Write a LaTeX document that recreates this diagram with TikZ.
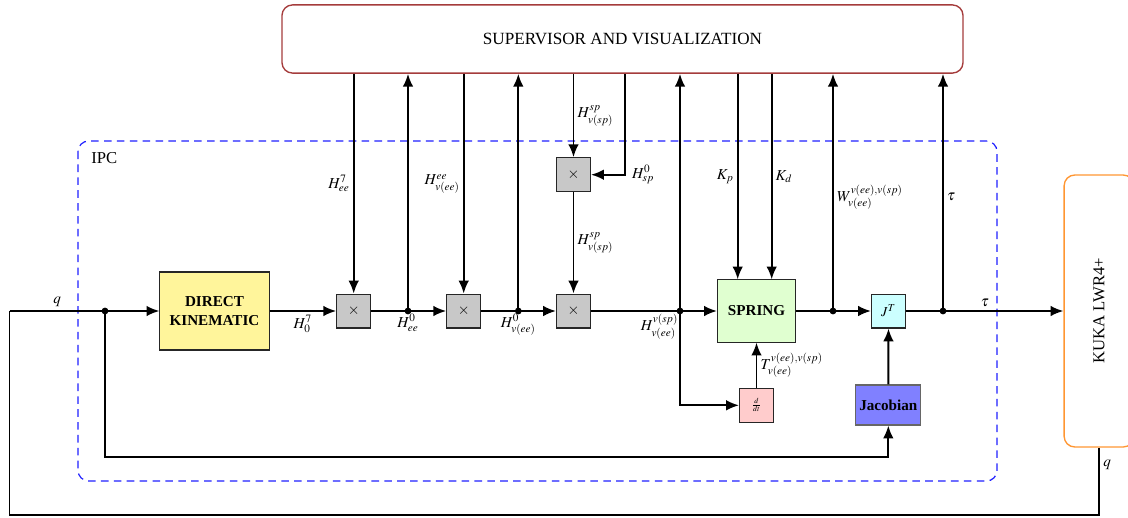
\documentclass[tikz,border=0pt]{standalone}
\usepackage{mathptmx}
\usepackage{fontspec}
\setmainfont{Liberation Serif}
\usetikzlibrary{arrows.meta,calc}
\definecolor{supcol}{RGB}{165,60,60}
\definecolor{kukacol}{RGB}{255,150,50}
\definecolor{ipccol}{RGB}{30,30,255}
\definecolor{dkcol}{RGB}{255,245,155}
\definecolor{sprcol}{RGB}{224,255,208}
\definecolor{jtcol}{RGB}{204,255,255}
\definecolor{ddtcol}{RGB}{255,204,204}
\definecolor{jaccol}{RGB}{128,128,255}
\definecolor{multcol}{RGB}{200,200,200}
\tikzset{
  arr/.style={line width=1.3pt,-{Latex[length=8.5pt,width=7pt]}},
  wire/.style={line width=1.3pt},
  blk/.style={draw=black!85,line width=0.7pt,inner sep=1pt,align=center},
  multbox/.style={blk,fill=multcol,minimum width=22.4pt,minimum height=22.4pt},
  dkbox/.style={blk,fill=dkcol,minimum width=72pt,minimum height=51.5pt,font=\bfseries},
  sprbox/.style={blk,fill=sprcol,minimum width=51.5pt,minimum height=41pt,font=\bfseries},
  jtbox/.style={blk,fill=jtcol,minimum width=22.4pt,minimum height=22.4pt,font=\small},
  ddtbox/.style={blk,fill=ddtcol,minimum width=22.4pt,minimum height=22.4pt},
  jacbox/.style={blk,draw=black!60,fill=jaccol,minimum width=43pt,minimum height=26.4pt,font=\bfseries},
  supbox/.style={draw=supcol,line width=0.9pt,rounded corners=7pt,minimum width=449.5pt,minimum height=45pt,font=\fontsize{11.3}{13}\selectfont},
  kukabox/.style={draw=kukacol,line width=0.9pt,rounded corners=7pt,minimum width=46pt,minimum height=179.5pt,font=\fontsize{11}{13}\selectfont},
  lbl/.style={inner sep=2pt},
  dot/.style={circle,fill=black,inner sep=0pt,minimum size=4.5pt}
}
\begin{document}
\begin{tikzpicture}[x=0.66pt,y=-0.66pt]
\useasboundingbox (0,0) rectangle (1128,517);

% containers
\draw[ipccol,dashed,dash pattern=on 5pt off 3.5pt,line width=0.8pt,rounded corners=7pt] (78,141) rectangle (997,481);
\node[lbl,anchor=west,font=\fontsize{11}{13}\selectfont] (ipc) at (88,158) {IPC};
\node[supbox] (sup) at (622.5,39) {SUPERVISOR AND VISUALIZATION};
\node[kukabox] (kuka) at (1099,311) {\rotatebox{90}{KUKA LWR4+}};

% blocks
\node[dkbox] (dk) at (214.5,311) {DIRECT\\KINEMATIC};
\node[multbox] (m1) at (353.7,311) {$\times$};
\node[multbox] (m2) at (463.7,311) {$\times$};
\node[multbox] (m3) at (573.5,311) {$\times$};
\node[multbox] (m0) at (573.5,174.7) {$\times$};
\node[sprbox] (spr) at (756.5,311) {SPRING};
\node[jtbox] (jt) at (888.5,311) {$J^T$};
\node[ddtbox] (ddt) at (756.5,405.3) {\scriptsize$\frac{d}{dt}$};
\node[jacbox] (jac) at (888.3,405) {Jacobian};

% junctions
\node[dot] (d0) at (105,311) {};
\node[dot] (d1) at (408,311) {};
\node[dot] (d2) at (518.3,311) {};
\node[dot] (d3) at (680,311) {};
\node[dot] (d4) at (833,311) {};
\node[dot] (d5) at (943,311) {};
\coordinate (c0) at (9.5,311);
\coordinate (c1) at (9.5,515);
\coordinate (b0) at (105,457);
\coordinate (cs) at (625,174.7);
\coordinate (kpin) at ($(spr.north)+(-18.8,0)$);
\coordinate (kdin) at ($(spr.north)+(15.2,0)$);

% main chain
\draw[wire] (c0) -- (d0.center) node[midway,above,lbl] {$q$};
\draw[arr] (d0.center) -- (dk.west);
\draw[arr] (dk.east) -- (m1.west) node[midway,below,lbl] {$H^7_0$};
\draw[arr] (m1.east) -- (m2.west);
\node[lbl,below] at (d1) {$H^0_{ee}$};
\draw[arr] (m2.east) -- (m3.west);
\node[lbl,below] at (d2) {$H^0_{v(ee)}$};
\draw[arr] (m3.east) -- (spr.west);
\node[lbl,below left,xshift=1pt] at (d3) {$H^{v(sp)}_{v(ee)}$};
\draw[arr] (spr.east) -- (jt.west);
\draw[arr] (jt.east) -- (kuka.west) node[pos=0.5,above,lbl] {$\tau$};

% supervisor links
\draw[arr] (m1 |- sup.south) -- (m1.north) node[midway,left,lbl] {$H^7_{ee}$};
\draw[arr] (d1.center) -- (d1 |- sup.south);
\draw[arr] (m2 |- sup.south) -- (m2.north) node[midway,left,lbl] {$H^{ee}_{v(ee)}$};
\draw[arr] (d2.center) -- (d2 |- sup.south);
\draw[arr] (m0 |- sup.south) -- (m0.north) node[midway,right,lbl] {$H^{sp}_{v(sp)}$};
\draw[arr] (cs |- sup.south) -- (cs) node[right,lbl,xshift=2pt] {$H^0_{sp}$} -- (m0.east);
\draw[arr] (m0.south) -- (m3.north) node[midway,right,lbl] {$H^{sp}_{v(sp)}$};
\draw[arr] (d3.center) -- (d3 |- sup.south);
\draw[arr] (kpin |- sup.south) -- (kpin) node[midway,left,lbl] {$K_p$};
\draw[arr] (kdin |- sup.south) -- (kdin) node[midway,right,lbl] {$K_d$};
\draw[arr] (d4.center) -- (d4 |- sup.south) node[pos=0.48,right,lbl] {$W^{v(ee),v(sp)}_{v(ee)}$};
\draw[arr] (d5.center) -- (d5 |- sup.south) node[pos=0.48,right,lbl] {$\tau$};

% lower links
\draw[arr] (d3.center) |- (ddt.west);
\draw[arr] (ddt.north) -- (spr.south) node[midway,right,lbl] {$T^{v(ee),v(sp)}_{v(ee)}$};
\draw[arr] (jac.north) -- (jt.south);
\draw[arr] (d0.center) -- (b0) -| (jac.south);

% feedback loop
\draw[wire] (kuka.south) |- (c1) -- (c0);
\node[lbl,right] at ($(kuka.south)+(1,17)$) {$q$};
\end{tikzpicture}
\end{document}
